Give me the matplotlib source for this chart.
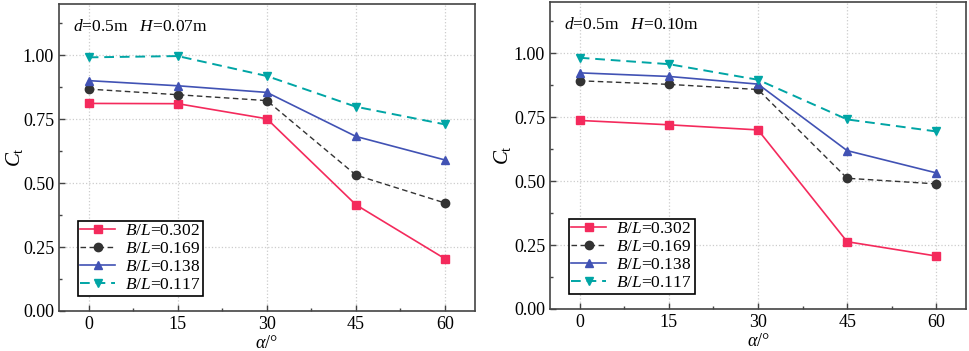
import matplotlib
matplotlib.use("Agg")
import matplotlib.pyplot as plt
from matplotlib.ticker import MultipleLocator

plt.rcParams['font.family'] = ['Liberation Serif', 'DejaVu Serif']
plt.rcParams['mathtext.fontset'] = 'custom'
plt.rcParams['mathtext.rm'] = 'Liberation Serif'
plt.rcParams['mathtext.it'] = 'Liberation Serif:italic'

# angle of incidence (deg)
alpha = [0, 15, 30, 45, 60]
labels = ['0.302', '0.169', '0.138', '0.117']

# d=0.5m H=0.07m
h07_302 = [0.811, 0.810, 0.751, 0.415, 0.204]
h07_169 = [0.867, 0.845, 0.822, 0.531, 0.422]
h07_138 = [0.900, 0.880, 0.854, 0.682, 0.590]
h07_117 = [0.991, 0.996, 0.918, 0.798, 0.729]

# d=0.5m H=0.10m
h10_302 = [0.737, 0.720, 0.700, 0.263, 0.207]
h10_169 = [0.892, 0.878, 0.858, 0.511, 0.489]
h10_138 = [0.923, 0.909, 0.879, 0.619, 0.532]
h10_117 = [0.982, 0.957, 0.896, 0.741, 0.694]

styles = [
    dict(color='#F42A5C', marker='s', linestyle='-', lw=1.2),
    dict(color='#333333', marker='o', linestyle=(0, (4, 2.5)), lw=1.0),
    dict(color='#4152B4', marker='^', linestyle='-', lw=1.2),
    dict(color='#00A5A5', marker='v', linestyle=(0, (5, 3)), lw=1.4),
]


def draw(ax, series, title, ylab_x):
    for vals, lab, st in zip(series, labels, styles):
        ax.plot(alpha, vals, markersize=6, label=r'$B/L$=' + lab, **st)
    ax.set_xlim(-5, 65)
    ax.set_ylim(0, 1.2)
    ax.xaxis.set_major_locator(MultipleLocator(15))
    ax.xaxis.set_minor_locator(MultipleLocator(7.5))
    ax.yaxis.set_minor_locator(MultipleLocator(0.125))
    ax.set_yticks([0, 0.25, 0.5, 0.75, 1.0])
    ax.set_yticklabels(['0.00', '0.25', '0.50', '0.75', '1.00'])
    ax.tick_params(which='major', direction='in', length=4, width=1, labelsize=13, color='#444444')
    ax.tick_params(which='minor', direction='in', length=2.5, width=1, color='#444444')
    ax.grid(True, which='major', linestyle=':', color='#cccccc', lw=0.9)
    for sp in ax.spines.values():
        sp.set_color('#444444')
        sp.set_linewidth(1.2)
    ax.set_xlabel(r'$\alpha$/°', fontsize=13, va='center')
    ax.xaxis.set_label_coords(0.5, -0.107)
    ax.set_ylabel(r'$C_{\rm t}$', fontsize=15, va='center')
    ax.yaxis.set_label_coords(ylab_x, 0.5)
    ax.text(0.033, 0.925, title, transform=ax.transAxes, fontsize=12.5, va='center')
    leg = ax.legend(loc='lower left', bbox_to_anchor=(0.045, 0.05), fontsize=12.5,
                    fancybox=False, framealpha=1, edgecolor='black', borderpad=0.15,
                    handlelength=2.0, labelspacing=0.1, handletextpad=0.6, borderaxespad=0)
    leg.get_frame().set_linewidth(1.2)


fig = plt.figure(figsize=(9.69, 3.51), dpi=100)
ax1 = fig.add_axes([0.0609, 0.114, 0.429, 0.875])
ax2 = fig.add_axes([0.5676, 0.1197, 0.4293, 0.8746])

draw(ax1, [h07_302, h07_169, h07_138, h07_117], r'$d$=0.5m   $H$=0.07m', -0.108)
draw(ax2, [h10_302, h10_169, h10_138, h10_117], r'$d$=0.5m   $H$=0.10m', -0.115)

fig.savefig('out.png', dpi=100)
